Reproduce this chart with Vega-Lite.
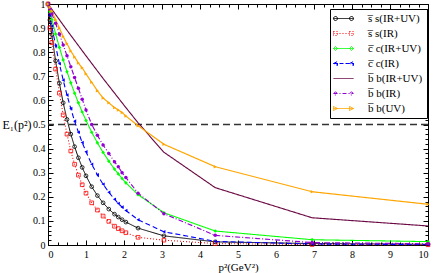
{
  "$schema": "https://vega.github.io/schema/vega-lite/v6.json",
  "width": 380,
  "height": 241,
  "autosize": "none",
  "padding": {"left": 48, "top": 4, "right": 8, "bottom": 28},
  "background": "white",
  "config": {
    "view": {"stroke": "black", "strokeWidth": 1},
    "font": "Liberation Serif",
    "axis": {"grid": false, "labelFont": "Liberation Serif", "labelFontSize": 10, "labelColor": "black", "tickColor": "black", "domainColor": "black", "titleFont": "Liberation Serif", "titleFontSize": 11, "titleFontWeight": "normal", "titleColor": "black"},
    "legend": {"orient": "none", "legendX": 282, "legendY": 5, "title": null, "fillColor": "white", "strokeColor": "black", "padding": 4,
      "labelFont": "Liberation Serif", "labelFontSize": 11, "labelColor": "black",
      "symbolSize": 100, "rowPadding": 3, "symbolOffset": 4, "labelOffset": 19, "symbolStrokeWidth": 1}
  },
  "datasets": {
    "d": [
      {"x": 0, "A": 1, "B": 1, "C": 1, "D": 1, "E": 1, "F": 1, "G": 1},
      {"x": 0.05, "A": 0.934, "B": 0.9, "C": 0.968, "D": 0.953, "F": 0.98, "G": 0.985},
      {"x": 0.1, "A": 0.873, "B": 0.84, "C": 0.936, "D": 0.909, "F": 0.96, "G": 0.97},
      {"x": 0.2, "A": 0.764, "B": 0.73, "C": 0.876, "D": 0.827, "F": 0.92, "G": 0.935},
      {"x": 0.3, "A": 0.671, "B": 0.63, "C": 0.82, "D": 0.752, "F": 0.875, "G": 0.9},
      {"x": 0.4, "A": 0.59, "B": 0.54, "C": 0.768, "D": 0.684, "F": 0.83, "G": 0.865},
      {"x": 0.5, "A": 0.521, "B": 0.46, "C": 0.719, "D": 0.622, "E": 0.891, "F": 0.785, "G": 0.835},
      {"x": 0.6, "A": 0.46, "B": 0.39, "C": 0.673, "D": 0.566, "F": 0.74, "G": 0.805},
      {"x": 0.7, "A": 0.408, "B": 0.335, "C": 0.63, "D": 0.514, "F": 0.695, "G": 0.78},
      {"x": 0.8, "A": 0.362, "B": 0.29, "C": 0.59, "D": 0.468, "F": 0.65, "G": 0.755},
      {"x": 0.9, "A": 0.322, "B": 0.25, "C": 0.552, "D": 0.425, "F": 0.605, "G": 0.735},
      {"x": 1.0, "A": 0.287, "B": 0.215, "C": 0.517, "D": 0.387, "E": 0.785, "F": 0.56, "G": 0.71},
      {"x": 1.15, "A": 0.242, "B": 0.175, "C": 0.468, "D": 0.335, "F": 0.5, "G": 0.675},
      {"x": 1.3, "A": 0.205, "B": 0.145, "C": 0.424, "D": 0.291, "F": 0.455, "G": 0.64},
      {"x": 1.45, "A": 0.175, "B": 0.12, "C": 0.384, "D": 0.252, "E": 0.691, "F": 0.415, "G": 0.61},
      {"x": 1.6, "A": 0.149, "B": 0.098, "C": 0.348, "D": 0.219, "F": 0.38, "G": 0.59},
      {"x": 1.75, "A": 0.128, "B": 0.078, "C": 0.315, "D": 0.19, "F": 0.345, "G": 0.57},
      {"x": 1.85, "A": 0.116, "B": 0.068, "C": 0.295, "D": 0.172, "F": 0.325, "G": 0.56},
      {"x": 1.95, "A": 0.105, "B": 0.059, "C": 0.276, "D": 0.157, "F": 0.3, "G": 0.55},
      {"x": 2.05, "A": 0.095, "B": 0.051, "C": 0.258, "D": 0.143, "E": 0.57, "F": 0.28, "G": 0.535},
      {"x": 2.37, "A": 0.07, "B": 0.032, "C": 0.209, "D": 0.105, "E": 0.507, "F": 0.215, "G": 0.495},
      {"x": 3.05, "A": 0.038, "B": 0.02, "C": 0.134, "D": 0.055, "E": 0.385, "F": 0.13, "G": 0.418},
      {"x": 4.4, "A": 0.013, "B": 0.006, "C": 0.058, "D": 0.015, "E": 0.238, "F": 0.04, "G": 0.325},
      {"x": 6.95, "A": 0.006, "B": 0.002, "C": 0.022, "D": 0.004, "E": 0.113, "F": 0.01, "G": 0.221},
      {"x": 10, "A": 0.003, "B": 0.001, "C": 0.014, "D": 0.002, "E": 0.079, "F": 0.005, "G": 0.169}
    ]
  },
  "data": {"name": "d"},
  "transform": [
    {"fold": ["A", "B", "C", "D", "E", "F", "G"], "as": ["k", "y"]},
    {"filter": "isValid(datum.y)"}
  ],
  "resolve": {"axis": {"x": "independent", "y": "independent"}, "scale": {"shape": "independent", "color": "independent", "strokeDash": "independent"}},
  "layer": [
    {
      "mark": {"type": "point", "opacity": 0},
      "encoding": {
        "x": {"field": "x", "type": "quantitative", "scale": {"domain": [0, 10], "nice": false, "zero": false},
          "axis": {"orient": "bottom", "values": [0,1,2,3,4,5,6,7,8,9,10], "tickSize": -5, "labelPadding": 9, "title": "p²(GeV²)", "titlePadding": 2}},
        "y": {"field": "y", "type": "quantitative", "scale": {"domain": [0, 1], "nice": false, "zero": false},
          "axis": {"orient": "left", "values": [0,0.1,0.2,0.3,0.4,0.5,0.6,0.7,0.8,0.9,1], "format": ".1~f", "tickSize": -5, "labelPadding": 8,
            "title": "E₁(p²)", "titleAngle": 0, "titleAlign": "left", "titleBaseline": "middle", "titleX": -46, "titleY": 120, "titleFontSize": 12}}
      }
    },
    {
      "mark": {"type": "point", "opacity": 0},
      "encoding": {
        "x": {"field": "x", "type": "quantitative",
          "axis": {"orient": "bottom", "values": [0.25,0.5,0.75,1.25,1.5,1.75,2.25,2.5,2.75,3.25,3.5,3.75,4.25,4.5,4.75,5.25,5.5,5.75,6.25,6.5,6.75,7.25,7.5,7.75,8.25,8.5,8.75,9.25,9.5,9.75], "tickSize": -3, "labels": false, "domain": false, "title": null}},
        "y": {"field": "y", "type": "quantitative",
          "axis": {"orient": "left", "values": [0.02,0.04,0.06,0.08,0.12,0.14,0.16,0.18,0.22,0.24,0.26,0.28,0.32,0.34,0.36,0.38,0.42,0.44,0.46,0.48,0.52,0.54,0.56,0.58,0.62,0.64,0.66,0.68,0.72,0.74,0.76,0.78,0.82,0.84,0.86,0.88,0.92,0.94,0.96,0.98], "tickSize": -3, "labels": false, "domain": false, "title": null}}
      }
    },
    {
      "mark": {"type": "point", "opacity": 0},
      "encoding": {
        "x": {"field": "x", "type": "quantitative",
          "axis": {"orient": "top", "values": [0,1,2,3,4,5,6,7,8,9,10], "tickSize": -5, "labels": false, "title": null}},
        "y": {"field": "y", "type": "quantitative",
          "axis": {"orient": "right", "values": [0,0.1,0.2,0.3,0.4,0.5,0.6,0.7,0.8,0.9,1], "tickSize": -5, "labels": false, "title": null}}
      }
    },
    {
      "mark": {"type": "point", "opacity": 0},
      "encoding": {
        "x": {"field": "x", "type": "quantitative",
          "axis": {"orient": "top", "values": [0.25,0.5,0.75,1.25,1.5,1.75,2.25,2.5,2.75,3.25,3.5,3.75,4.25,4.5,4.75,5.25,5.5,5.75,6.25,6.5,6.75,7.25,7.5,7.75,8.25,8.5,8.75,9.25,9.5,9.75], "tickSize": -3, "labels": false, "domain": false, "title": null}},
        "y": {"field": "y", "type": "quantitative",
          "axis": {"orient": "right", "values": [0.02,0.04,0.06,0.08,0.12,0.14,0.16,0.18,0.22,0.24,0.26,0.28,0.32,0.34,0.36,0.38,0.42,0.44,0.46,0.48,0.52,0.54,0.56,0.58,0.62,0.64,0.66,0.68,0.72,0.74,0.76,0.78,0.82,0.84,0.86,0.88,0.92,0.94,0.96,0.98], "tickSize": -3, "labels": false, "domain": false, "title": null}}
      }
    },
    {
      "data": {"values": [{}]},
      "mark": {"type": "rule", "color": "#333333", "strokeWidth": 1.5, "strokeDash": [7, 4]},
      "encoding": {"y": {"datum": 0.5, "type": "quantitative", "axis": null}}
    },
    {
      "mark": {"type": "line"},
      "encoding": {
        "x": {"field": "x", "type": "quantitative", "axis": null},
        "y": {"field": "y", "type": "quantitative", "axis": null},
        "color": {"field": "k", "type": "nominal", "legend": null,
          "scale": {"domain": ["A","B","C","D","E","F","G"], "range": ["#000000","#ff0000","#00ff00","#0000ff","#6b0a45","#9400d3","#ffa500"]}},
        "strokeDash": {"field": "k", "type": "nominal", "legend": null,
          "scale": {"domain": ["A","B","C","D","E","F","G"], "range": [[1,0],[1,2],[1,0],[5,3],[1,0],[5,2,1,2],[1,0]]}},
        "strokeWidth": {"field": "k", "type": "nominal", "legend": null,
          "scale": {"domain": ["A","B","C","D","E","F","G"], "range": [1,1.2,1,1.5,1.8,1.5,1]}}
      }
    },
    {
      "transform": [{"filter": {"field": "k", "oneOf": ["A", "B"]}}],
      "mark": {"type": "point", "filled": false, "strokeWidth": 0.8, "opacity": 1},
      "encoding": {
        "x": {"field": "x", "type": "quantitative", "axis": null},
        "y": {"field": "y", "type": "quantitative", "axis": null},
        "color": {"field": "k", "type": "nominal", "legend": null,
          "scale": {"domain": ["A","B","C","D","E","F","G"], "range": ["#000000","#ff0000","#00ff00","#0000ff","#6b0a45","#9400d3","#ffa500"]}},
        "shape": {"field": "k", "type": "nominal", "legend": null,
          "scale": {"domain": ["A","B","C","D","E","F","G"], "range": ["circle","square","diamond","triangle-left","circle","circle","triangle-right"]}},
        "size": {"field": "k", "type": "nominal", "legend": null,
          "scale": {"domain": ["A","B","C","D","E","F","G"], "range": [14,12,14,16,0,7,14]}}
      }
    },
    {
      "transform": [{"filter": {"field": "k", "oneOf": ["C", "D", "F", "G"]}}],
      "mark": {"type": "point", "filled": true, "opacity": 1},
      "encoding": {
        "x": {"field": "x", "type": "quantitative", "axis": null},
        "y": {"field": "y", "type": "quantitative", "axis": null},
        "color": {"field": "k", "type": "nominal", "legend": null,
          "scale": {"domain": ["A","B","C","D","E","F","G"], "range": ["#000000","#ff0000","#00ff00","#0000ff","#6b0a45","#9400d3","#ffa500"]}},
        "shape": {"field": "k", "type": "nominal", "legend": null,
          "scale": {"domain": ["A","B","C","D","E","F","G"], "range": ["circle","square","diamond","triangle-left","circle","circle","triangle-right"]}},
        "size": {"field": "k", "type": "nominal", "legend": null}
      }
    },
    {
      "transform": [{"filter": "false"}],
      "mark": {"type": "point", "filled": false, "opacity": 1, "strokeWidth": 1},
      "encoding": {
        "x": {"field": "x", "type": "quantitative", "axis": null},
        "y": {"field": "y", "type": "quantitative", "axis": null},
        "color": {"field": "k", "type": "nominal",
          "scale": {"domain": ["A","B","C","D","E","F","G"], "range": ["#000000","#ff0000","#00ff00","#0000ff","#6b0a45","#9400d3","#ffa500"]},
          "legend": {"labelExpr": "{'A':'s\u0305 s(IR+UV)','B':'s\u0305 s(IR)','C':'c\u0305 c(IR+UV)','D':'c\u0305 c(IR)','E':'b\u0305 b(IR+UV)','F':'b\u0305 b(IR)','G':'b\u0305 b(UV)'}[datum.label]"}},
        "strokeDash": {"field": "k", "type": "nominal",
          "scale": {"domain": ["A","B","C","D","E","F","G"], "range": [[1,0],[1,2],[1,0],[4,2],[1,0],[4,2,1,2],[1,0]]},
          "legend": {"labelExpr": "{'A':'s\u0305 s(IR+UV)','B':'s\u0305 s(IR)','C':'c\u0305 c(IR+UV)','D':'c\u0305 c(IR)','E':'b\u0305 b(IR+UV)','F':'b\u0305 b(IR)','G':'b\u0305 b(UV)'}[datum.label]"}},
        "shape": {"field": "k", "type": "nominal",
          "scale": {"domain": ["A","B","C","D","E","F","G"], "range": [
            "M-2,0H2M-2,0A0.4,0.4,0,1,1,-1.2,0A0.4,0.4,0,1,1,-2,0M1.2,0A0.4,0.4,0,1,1,2,0A0.4,0.4,0,1,1,1.2,0",
            "M-2,0H2M-2,-0.4H-1.2V0.4H-2ZM1.2,-0.4H2V0.4H1.2Z",
            "M-2,0H2M-2,0L-1.6,-0.4L-1.2,0L-1.6,0.4ZM1.2,0L1.6,-0.4L2,0L1.6,0.4Z",
            "M-2,0H2M-2,0L-1.2,-0.4L-1.2,0.4ZM1.2,0L2,-0.4L2,0.4Z",
            "M-2,0H2",
            "M-2,0H2M-1.9,0A0.3,0.3,0,1,1,-1.3,0A0.3,0.3,0,1,1,-1.9,0M1.3,0A0.3,0.3,0,1,1,1.9,0A0.3,0.3,0,1,1,1.3,0",
            "M-2,-0.4L-1.2,0L-2,0.4ZM1.2,-0.4L2,0L1.2,0.4ZM-2,0H2"]},
          "legend": {"labelExpr": "{'A':'s\u0305 s(IR+UV)','B':'s\u0305 s(IR)','C':'c\u0305 c(IR+UV)','D':'c\u0305 c(IR)','E':'b\u0305 b(IR+UV)','F':'b\u0305 b(IR)','G':'b\u0305 b(UV)'}[datum.label]"}}
      }
    }
  ]
}
